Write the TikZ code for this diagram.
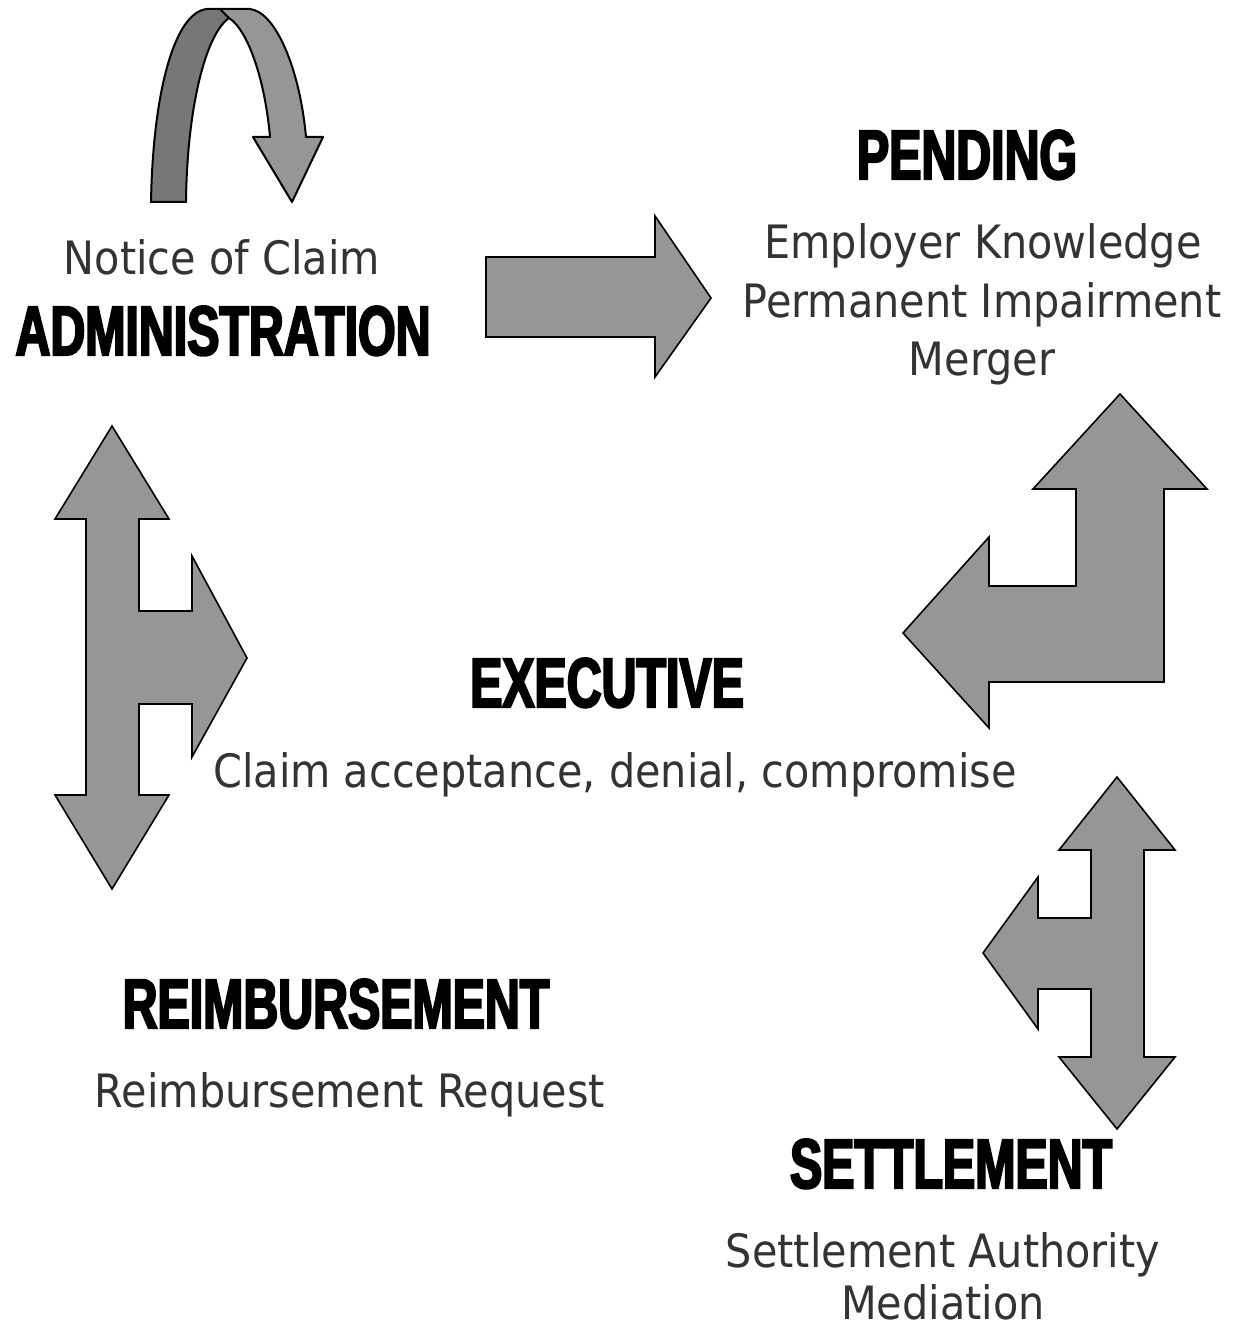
\documentclass[tikz,border=0pt]{standalone}
\usepackage{fontspec}
\newfontfamily\bodyfont[FakeStretch=0.9]{DejaVu Sans}
\newfontfamily\titlefont[FakeStretch=0.69,BoldFeatures={FakeBold=3}]{Liberation Sans}
\definecolor{arrowgray}{HTML}{969696}
\definecolor{darkribbon}{HTML}{777777}
\definecolor{bodytext}{HTML}{333333}
\tikzset{
  blockarrow/.style={fill=arrowgray, draw=black, line width=1.6pt, line join=miter},
  titletext/.style={anchor=base, inner sep=0pt, text=black, font=\titlefont\bfseries\fontsize{70}{84}\selectfont},
  bodytxt/.style={anchor=base, inner sep=0pt, text=bodytext, font=\bodyfont\fontsize{46}{57}\selectfont}
}
\begin{document}
\begin{tikzpicture}[x=1pt,y=-1pt]
\useasboundingbox (0,0) rectangle (1246,1329);

% curved self arrow (ribbon)
\draw[fill=darkribbon, draw=black, line width=2pt, line join=round]
  (151,202) .. controls (153,90) and (175,12) .. (207,9) -- (220,9)
  -- (229,18) .. controls (205,35) and (187,110) .. (186,202) -- cycle;
\draw[fill=arrowgray, draw=black, line width=2pt, line join=round]
  (220,9) -- (250,9) .. controls (276,12) and (300,70) .. (306,137)
  -- (323,137) -- (292,202) -- (253,137) -- (270,137)
  .. controls (265,80) and (248,30) .. (229,18) -- cycle;

% right arrow
\draw[blockarrow] (486,257) -- (655,257) -- (655,216) -- (711,298)
  -- (655,377) -- (655,337) -- (486,337) -- cycle;

% left three-way arrow
\draw[blockarrow] (112,426) -- (169,519) -- (139,519) -- (139,611) -- (192,611)
  -- (192,556) -- (247,658) -- (192,757) -- (192,704) -- (139,704) -- (139,795)
  -- (169,795) -- (112,889) -- (55,795) -- (86,795) -- (86,519) -- (55,519) -- cycle;

% bent arrow right
\draw[blockarrow] (1120,394) -- (1207,489) -- (1164,489) -- (1164,682) -- (989,682)
  -- (989,728) -- (903,633) -- (989,537) -- (989,586) -- (1076,586) -- (1076,489)
  -- (1033,489) -- cycle;

% lower right three-way arrow
\draw[blockarrow] (1117,777) -- (1175,850) -- (1144,850) -- (1144,1057) -- (1175,1057)
  -- (1117,1129) -- (1059,1057) -- (1091,1057) -- (1091,989) -- (1038,989)
  -- (1038,1029) -- (983,953) -- (1038,877) -- (1038,918) -- (1091,918)
  -- (1091,850) -- (1059,850) -- cycle;

% texts
\node[bodytxt] (admtext) at (222,275) {Notice of Claim};
\node[titletext] (admtitle) at (223,355) {ADMINISTRATION};

\node[titletext] (pendtitle) at (967,179) {PENDING};
\node[bodytxt] (pend1) at (983,259) {Employer Knowledge};
\node[bodytxt] (pend2) at (982,317) {Permanent Impairment};
\node[bodytxt] (pend3) at (982,375) {Merger};

\node[titletext] (exectitle) at (607,707) {EXECUTIVE};
\node[bodytxt] (exectext) at (615,787) {Claim acceptance, denial, compromise};

\node[titletext] (reimbtitle) at (336,1028) {REIMBURSEMENT};
\node[bodytxt] (reimbtext) at (350,1107) {Reimbursement Request};

\node[titletext] (settitle) at (951,1188) {SETTLEMENT};
\node[bodytxt] (set1) at (943,1267) {Settlement Authority};
\node[bodytxt] (set2) at (943,1319) {Mediation};
\end{tikzpicture}
\end{document}
